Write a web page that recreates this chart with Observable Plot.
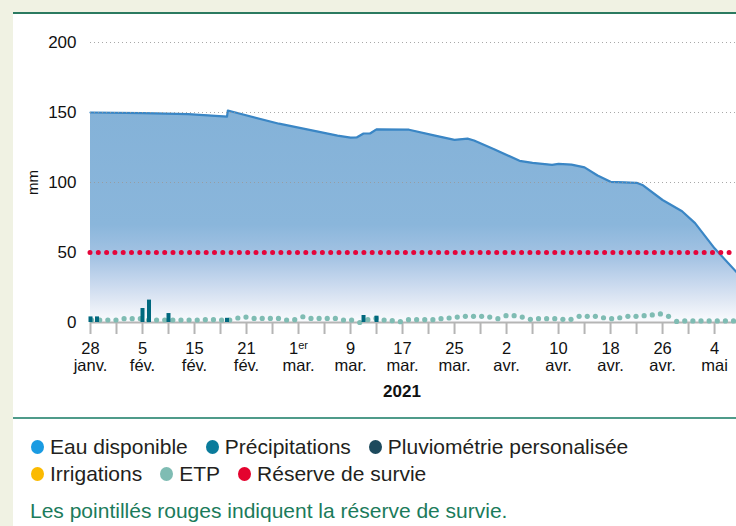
<!DOCTYPE html>
<html><head><meta charset="utf-8">
<script src="https://cdn.jsdelivr.net/npm/d3@7"></script>
<script src="https://cdn.jsdelivr.net/npm/@observablehq/plot@0.6"></script>
<style>
html,body{margin:0;padding:0;background:#f0f2e3;width:736px;height:526px;overflow:hidden;font-family:"Liberation Sans",Arial,sans-serif;}
#panel{position:absolute;left:13px;top:12px;width:723px;height:514px;background:#fff;border-top:2px solid #2b7a60;}
#chart{position:absolute;left:0;top:0;}
#year{position:absolute;left:339px;top:368px;width:100px;text-align:center;font-weight:bold;font-size:17px;line-height:20px;color:#111;}
#sep{position:absolute;left:0;top:403px;width:723px;height:2px;background:#4f9b8a;}
.row{position:absolute;left:18px;display:flex;align-items:center;height:27px;font-size:21px;color:#231f20;white-space:nowrap;}
.item{display:flex;align-items:center;margin-right:18px;}
.sw{width:13px;height:14px;border-radius:50%;margin-right:6px;}
#caption{position:absolute;left:17px;top:485px;font-size:21px;line-height:24px;color:#1b7b5b;white-space:nowrap;}
</style></head>
<body>
<div id="panel">
  <div id="chart"></div>
  <div id="year">2021</div>
  <div id="sep"></div>
  <div class="row" id="row1" style="top:419px"></div>
  <div class="row" id="row2" style="top:446px"></div>
  <div id="caption">Les pointillés rouges indiquent la réserve de survie.</div>
</div>
<script>
// ---- Data ----
const waterDates = ["2021-01-28","2021-02-05","2021-02-12","2021-02-18","2021-02-18T03:00Z","2021-02-26","2021-03-07","2021-03-09","2021-03-10","2021-03-11","2021-03-12","2021-03-13","2021-03-18","2021-03-22","2021-03-25","2021-03-27","2021-03-28","2021-03-31","2021-04-04","2021-04-06","2021-04-09","2021-04-10","2021-04-12","2021-04-14","2021-04-16","2021-04-18","2021-04-22","2021-04-23","2021-04-26","2021-04-29","2021-05-01","2021-05-04","2021-05-07T09:00Z"];
const waterValues = [150,149.6,148.9,147.1,151.4,142,133.5,132,132.3,135,135,138,137.7,133.5,130.5,131.3,130,124,115.5,114,112.6,113.3,112.8,110.8,105,100.5,99.8,98,87.5,79.5,71,53,36];

const precipDates = ["2021-01-28","2021-01-29","2021-02-05","2021-02-06","2021-02-09","2021-02-18","2021-03-11","2021-03-13"];
const precipValues = [4,4,10,16,6.4,3,5,4.5];

const etpStart = "2021-01-28T04:00Z";   // one ETP reading every 30 hours
const etpStepHours = 30;
const etpValues = [1.8,1.8,1.8,1.8,2.7,2.7,2.7,1.8,1.8,1.8,1.8,1.8,1.8,1.8,2.0,2.0,1.8,1.8,3.2,3.9,
  2.9,2.9,2.9,2.9,1.8,2.0,4.1,2.9,2.9,2.9,2.9,1.8,1.8,0,2.0,2.9,1.8,1.3,0.6,2.0,
  2.0,2.0,2.0,2.7,3.2,3.9,4.4,4.4,4.4,3.9,2.7,4.9,4.9,3.9,2.3,2.7,2.7,2.7,2.3,2.3,
  4.4,4.4,4.4,3.4,2.7,3.4,4.4,4.4,4.9,5.4,6.1,4.4,0.8,1.1,1.1,1.1,1.1,1.1,1.1,1.1];

const survivalReserve = 50;

const tickDates = ["2021-01-28","2021-02-05","2021-02-13","2021-02-21","2021-03-01","2021-03-09","2021-03-17","2021-03-25","2021-04-02","2021-04-10","2021-04-18","2021-04-26","2021-05-04"];
const tickDays = ["28","5","15","21","1er","9","17","25","2","10","18","26","4"];
const tickMonths = ["janv.","fév.","fév.","fév.","mar.","mar.","mar.","mar.","avr.","avr.","avr.","avr.","mai"];
const yTicks = [0,50,100,150,200];
const gridTicks = [100,150,200];

const legendLabels1 = ["Eau disponible","Précipitations","Pluviométrie personalisée"];
const legendColors1 = ["#1a9be2","#0a7b9b","#1d4a5d"];
const legendLabels2 = ["Irrigations","ETP","Réserve de survie"];
const legendColors2 = ["#fbba00","#7fbcb3","#e4032e"];

// ---- Build tables ----
const water = waterDates.map((d,i)=>({date:new Date(d), value:waterValues[i]}));
const precip = precipDates.map((d,i)=>({date:new Date(d), value:precipValues[i]}));
const etp = etpValues.map((v,i)=>({date:d3.utcHour.offset(new Date(etpStart), etpStepHours*i), value:v}));
const tickDateObjs = tickDates.map(d=>new Date(d));
const labelOf = new Map(tickDates.map((d,i)=>[+new Date(d), tickDays[i]+"\n"+tickMonths[i]]));
const xStart = new Date("2021-01-28"), xEnd = new Date("2021-05-07T09:00Z");
const minorTicks = d3.utcDay.range(xStart, xEnd, 4);

const gradient = () => {
  const defs = d3.create("svg:defs");
  const g = defs.append("linearGradient").attr("id","wgrad").attr("x1",0).attr("x2",0).attr("y1",0).attr("y2",1);
  [[0,"#84b2d8"],[0.54,"#8ab6db"],[0.7,"#a6c4e4"],[0.82,"#c9d9ee"],[0.9,"#e0e8f4"],[1,"#fbfcfe"]]
    .forEach(([o,c])=>g.append("stop").attr("offset",o).attr("stop-color",c));
  return defs.node();
};

const chart = Plot.plot({
  width: 723, height: 400,
  marginLeft: 77, marginRight: 0, marginTop: 28, marginBottom: 92,
  style: {fontFamily: "Liberation Sans, Arial, sans-serif", fontSize: "17px", color: "#111", background: "transparent"},
  x: {type: "utc", domain: [xStart, xEnd]},
  y: {domain: [0, 200]},
  marks: [
    gradient,
    Plot.areaY(water, {x: "date", y: "value", fill: "url(#wgrad)"}),
    Plot.lineY(water, {x: "date", y: "value", stroke: "#3a86c5", strokeWidth: 2.2}),
    Plot.gridY(gridTicks, {stroke: "#999", strokeOpacity: 0.85, strokeDasharray: "1,3"}),
    Plot.ruleY([0], {stroke: "#b5b5b5", strokeWidth: 2}),
    Plot.axisX(minorTicks, {tickSize: 12, stroke: "#b5b5b5", strokeWidth: 2, tickFormat: () => "", label: null}),
    Plot.axisX(tickDateObjs, {tickSize: 0, tickPadding: 20, lineHeight: 1, fontSize: 16.5, tickFormat: d => labelOf.get(+d), label: null}),
    Plot.axisY(yTicks, {tickSize: 0, tickPadding: 14, fontSize: 17, label: "mm", labelAnchor: "center", labelOffset: 63}),
    Plot.ruleY([survivalReserve], {stroke: "#e5053a", strokeWidth: 5, strokeDasharray: "0,8.3", strokeLinecap: "round"}),
    Plot.dot(etp, {x: "date", y: "value", r: 2.6, fill: "#7fbcb3"}),
    Plot.ruleX(precip, {x: "date", y: "value", stroke: "#00687e", strokeWidth: 4})
  ]
});
document.getElementById("chart").appendChild(chart);

// drop the empty labels of the minor-tick axis
chart.querySelectorAll("text").forEach(t => { if (t.textContent.trim() === "") t.remove(); });

// superscript for "1er"
chart.querySelectorAll("tspan").forEach(t => {
  if (t.textContent === "1er") {
    t.textContent = "1";
    const s = document.createElementNS("http://www.w3.org/2000/svg","tspan");
    s.textContent = "er";
    s.setAttribute("font-size","11");
    s.setAttribute("baseline-shift","5");
    t.appendChild(s);
  }
});
// plain "mm" axis label (no arrow)
chart.querySelectorAll("text").forEach(t => {
  if (t.textContent.includes("mm") && t.textContent.length <= 4) {
    t.textContent = "mm";
    t.setAttribute("font-size", "15");
  }
});

function fillRow(id, labels, colors){
  const row = document.getElementById(id);
  labels.forEach((l,i)=>{
    const it = document.createElement("div"); it.className="item";
    const sw = document.createElement("div"); sw.className="sw"; sw.style.background=colors[i];
    const tx = document.createElement("span"); tx.textContent=l;
    it.appendChild(sw); it.appendChild(tx); row.appendChild(it);
  });
}
fillRow("row1", legendLabels1, legendColors1);
fillRow("row2", legendLabels2, legendColors2);
</script>
</body></html>
